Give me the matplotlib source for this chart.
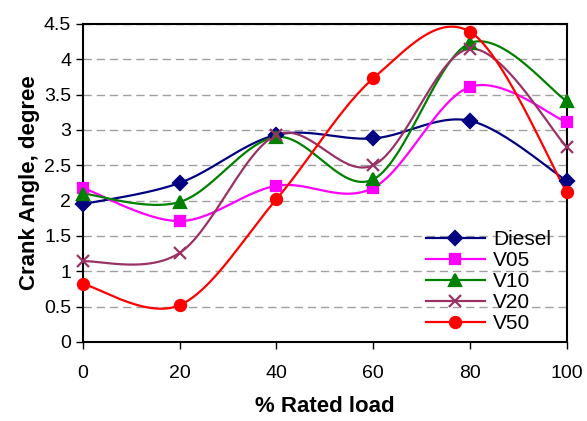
import numpy as np
import matplotlib
matplotlib.use("Agg")
import matplotlib.pyplot as plt
from matplotlib.lines import Line2D

plt.rcParams['font.family'] = ['Liberation Sans', 'DejaVu Sans']

load = [0, 20, 40, 60, 80, 100]
diesel = [1.95, 2.25, 2.93, 2.88, 3.13, 2.28]
v05 = [2.18, 1.71, 2.21, 2.18, 3.61, 3.11]
v10 = [2.10, 1.98, 2.90, 2.30, 4.23, 3.41]
v20 = [1.14, 1.26, 2.93, 2.50, 4.15, 2.76]
v50 = [0.82, 0.52, 2.02, 3.73, 4.39, 2.12]

names = ['Diesel', 'V05', 'V10', 'V20', 'V50']
colors = ['#000080', '#FF00FF', '#008000', '#993366', '#FF0000']
markers = ['D', 's', '^', 'x', 'o']
msizes = [7, 7.5, 8.5, 9, 8]


def smooth(x, y, n=30):
    # excel-like smoothed line (cubic bezier, catmull-rom control points)
    x = np.asarray(x, float)
    y = np.asarray(y, float)
    px = np.concatenate([[x[0]], x, [x[-1]]])
    py = np.concatenate([[y[0]], y, [y[-1]]])
    t = np.linspace(0, 1, n)
    xs, ys = [], []
    for i in range(len(x) - 1):
        p0 = np.array([px[i + 1], py[i + 1]])
        p3 = np.array([px[i + 2], py[i + 2]])
        c1 = p0 + (np.array([px[i + 2], py[i + 2]]) - np.array([px[i], py[i]])) / 6
        c2 = p3 - (np.array([px[i + 3], py[i + 3]]) - np.array([px[i + 1], py[i + 1]])) / 6
        b = ((1 - t) ** 3)[:, None] * p0 + (3 * (1 - t) ** 2 * t)[:, None] * c1 \
            + (3 * (1 - t) * t ** 2)[:, None] * c2 + (t ** 3)[:, None] * p3
        xs.extend(b[:, 0])
        ys.extend(b[:, 1])
    return xs, ys


fig = plt.figure(figsize=(5.87, 4.21), dpi=100)
ax = fig.add_axes([0.1414, 0.188, 0.824, 0.755])

handles = []
for name, data, c, m, ms in zip(names, [diesel, v05, v10, v20, v50], colors, markers, msizes):
    sx, sy = smooth(load, data)
    ax.plot(sx, sy, color=c, lw=1.6, zorder=3)
    ax.plot(load, data, ls='none', marker=m, color=c, ms=ms, mew=1.6, zorder=4, clip_on=False)
    handles.append(Line2D([], [], color=c, lw=1.6, marker=m, ms=ms, mew=1.6))

ax.set_xlim(0, 100)
ax.set_ylim(0, 4.5)
ax.set_xticks(load)
ax.set_yticks(np.arange(0, 4.51, 0.5))
ax.set_yticklabels(['0', '0.5', '1', '1.5', '2', '2.5', '3', '3.5', '4', '4.5'])
ax.yaxis.grid(True, color='#A0A0A0', ls=(0, (6, 3.5)), lw=1)
ax.set_axisbelow(True)
for s in ax.spines.values():
    s.set_linewidth(1.5)
ax.tick_params(axis='both', direction='out', length=5, width=1, labelsize=14)
ax.tick_params(axis='x', pad=12)

ax.set_xlabel('% Rated load', fontsize=16, fontweight='bold', labelpad=10)
ax.set_ylabel('Crank Angle, degree', fontsize=16, fontweight='bold', labelpad=3)

ax.legend(handles, names, loc='lower right', frameon=False, fontsize=15,
          handlelength=2.8, handletextpad=0.4, labelspacing=0.1,
          borderpad=0, borderaxespad=0, bbox_to_anchor=(0.9675, 0.027))

fig.savefig('out.png', dpi=100)
